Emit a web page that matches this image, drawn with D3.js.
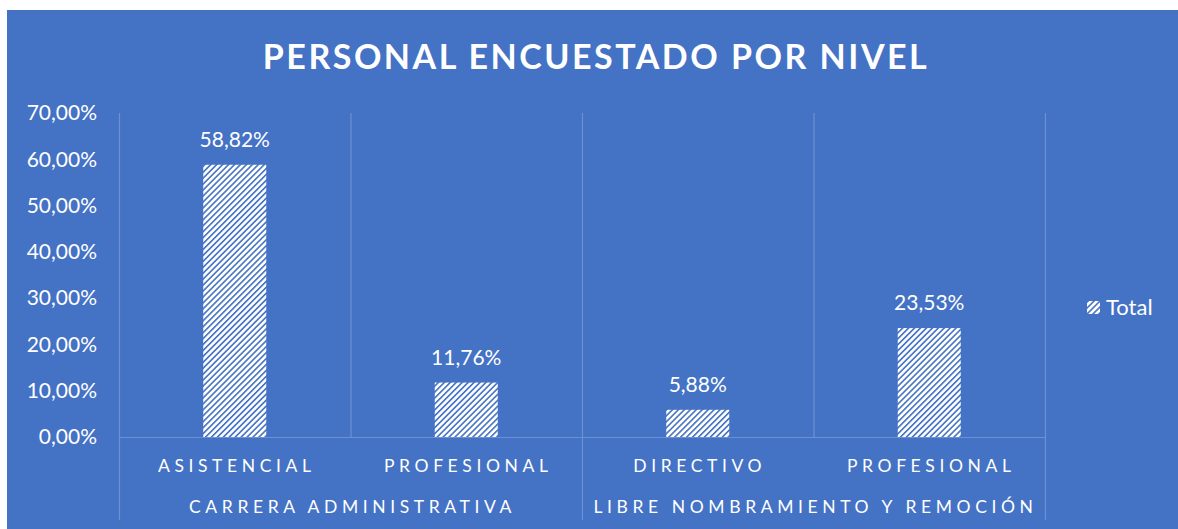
<!DOCTYPE html>
<html>
<head>
<meta charset="utf-8">
<script src="https://cdn.jsdelivr.net/npm/d3@7"></script>
<style>
  body { margin: 0; background: #fff; }
  svg { display: block; }
</style>
</head>
<body>
<svg id="chart"></svg>
<script>
// chart data
const groups = ["CARRERA ADMINISTRATIVA", "LIBRE NOMBRAMIENTO Y REMOCIÓN"];
const categories = ["ASISTENCIAL", "PROFESIONAL", "DIRECTIVO", "PROFESIONAL"];
const categoryGroup = [0, 0, 1, 1];
const values = [58.82, 11.76, 5.88, 23.53];
const yTicks = [0, 10, 20, 30, 40, 50, 60, 70];
const title = "PERSONAL ENCUESTADO POR NIVEL";
const seriesName = "Total";

const dims = {
    width: 1178, height: 529,
    marginLeft: 119, marginRight: 133,
    marginTop: 113, marginBottom: 92
};
const blue = "#4472c4";
const gridColor = "#6e90d0";
const font = "Lato, 'Open Sans', sans-serif";

const svg = d3.select("#chart")
    .attr("width", dims.width)
    .attr("height", dims.height);

// hatch pattern for bars
const defs = svg.append("defs");
const pat = defs.append("pattern")
    .attr("id", "hatch")
    .attr("patternUnits", "userSpaceOnUse")
    .attr("width", 4.2)
    .attr("height", 4.2)
    .attr("patternTransform", "rotate(45)");
pat.append("rect").attr("width", 4.2).attr("height", 4.2).attr("fill", "#fff");
pat.append("rect").attr("x", 0).attr("width", 1.6).attr("height", 4.2).attr("fill", blue);

// background panel
svg.append("rect")
    .attr("x", 7).attr("y", 10)
    .attr("width", dims.width - 7).attr("height", dims.height - 10)
    .attr("fill", blue);

const x = d3.scaleBand()
    .domain(d3.range(categories.length))
    .range([dims.marginLeft, dims.width - dims.marginRight])
    .paddingInner(0)
    .paddingOuter(0);

const y = d3.scaleLinear()
    .domain([0, 70])
    .range([dims.height - dims.marginBottom, dims.marginTop]);

const x0 = x.range()[0], x1 = x.range()[1];
const y0 = y(0);

// vertical grid lines at category boundaries
const boundaries = d3.range(categories.length + 1);
svg.append("g")
    .selectAll("line")
    .data(boundaries)
    .join("line")
    .attr("x1", i => x0 + i * x.bandwidth() + 0.5)
    .attr("x2", i => x0 + i * x.bandwidth() + 0.5)
    .attr("y1", y(70))
    .attr("y2", i => (i % 2 === 0) ? 520 : y0)
    .attr("stroke", gridColor)
    .attr("stroke-width", 1.2);

// baseline
svg.append("line")
    .attr("x1", x0).attr("x2", x1)
    .attr("y1", y0 + 0.5).attr("y2", y0 + 0.5)
    .attr("stroke", gridColor)
    .attr("stroke-width", 1.2);

// y axis labels
const yAxis = g => g
    .attr("transform", `translate(${dims.marginLeft - 22}, 0)`)
    .call(d3.axisLeft(y).tickValues(yTicks).tickSize(0)
        .tickFormat(d => d3.format(".2f")(d).replace(".", ",") + "%"))
    .call(g => g.select(".domain").remove())
    .call(g => g.selectAll("text")
        .attr("fill", "#fff")
        .attr("x", 0)
        .style("font-family", font)
        .style("font-size", "21px"));
svg.append("g").call(yAxis);

// bars
const barW = 63;
svg.append("g")
    .selectAll("rect")
    .data(values)
    .join("rect")
    .attr("x", (d, i) => x(i) + x.bandwidth() / 2 - barW / 2)
    .attr("y", d => y(d))
    .attr("width", barW)
    .attr("height", d => y0 - y(d))
    .attr("fill", "url(#hatch)");

// data labels
svg.append("g")
    .selectAll("text")
    .data(values)
    .join("text")
    .attr("x", (d, i) => x(i) + x.bandwidth() / 2)
    .attr("y", d => y(d) - 18)
    .attr("text-anchor", "middle")
    .attr("fill", "#fff")
    .style("font-family", font)
    .style("font-size", "21px")
    .text(d => d3.format(".2f")(d).replace(".", ",") + "%");

// category labels (first level)
svg.append("g")
    .selectAll("text")
    .data(categories)
    .join("text")
    .attr("x", (d, i) => x(i) + x.bandwidth() / 2 + 2)
    .attr("y", 472)
    .attr("text-anchor", "middle")
    .attr("fill", "#fff")
    .style("font-family", font)
    .style("font-size", "17.5px")
    .style("letter-spacing", "4.6px")
    .text(d => d);

// group labels (second level)
svg.append("g")
    .selectAll("text")
    .data(groups)
    .join("text")
    .attr("x", (d, gi) => {
        const idx = categoryGroup.map((g, i) => g === gi ? i : -1).filter(i => i >= 0);
        return (x(idx[0]) + x(idx[idx.length - 1]) + x.bandwidth()) / 2 + 2;
    })
    .attr("y", 513)
    .attr("text-anchor", "middle")
    .attr("fill", "#fff")
    .style("font-family", font)
    .style("font-size", "17.5px")
    .style("letter-spacing", "4.6px")
    .text(d => d);

// title
svg.append("text")
    .attr("x", 596)
    .attr("y", 69)
    .attr("text-anchor", "middle")
    .attr("fill", "#fff")
    .style("font-family", font)
    .style("font-weight", "bold")
    .style("font-size", "34px")
    .style("letter-spacing", "2.5px")
    .text(title);

// legend
const legend = svg.append("g").attr("transform", "translate(1087, 301)");
legend.append("rect")
    .attr("width", 13).attr("height", 13)
    .attr("fill", "url(#hatch)");
legend.append("text")
    .attr("x", 19).attr("y", 14)
    .attr("fill", "#fff")
    .style("font-family", font)
    .style("font-size", "22px")
    .text(seriesName);
</script>
</body>
</html>
